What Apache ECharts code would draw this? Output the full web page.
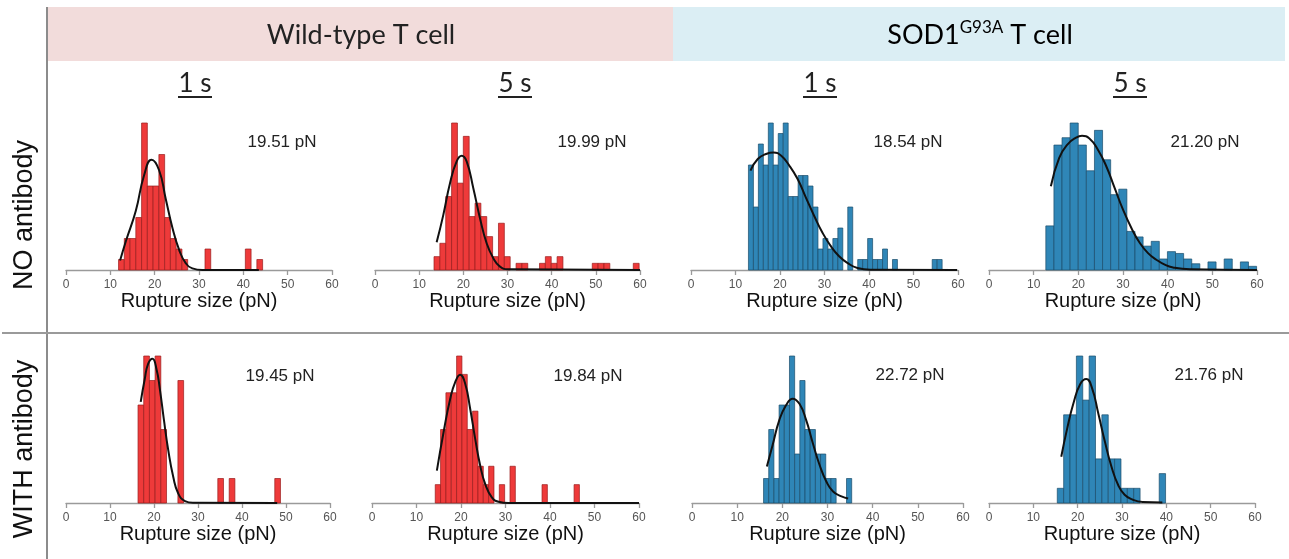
<!DOCTYPE html>
<html>
<head>
<meta charset="utf-8">
<script src="https://cdn.jsdelivr.net/npm/echarts@6/dist/echarts.min.js"></script>
<style>
html,body{margin:0;padding:0;background:#fff;}
#chart{width:1289px;height:559px;}
</style>
</head>
<body>
<div id="chart"></div>
<script>
// ---------------- DATA ----------------
const xTicks = [0, 10, 20, 30, 40, 50, 60];
const groupLabels = ['Wild-type T cell', 'SOD1', 'G93A', ' T cell'];
const timeLabels = ['1 s', '5 s', '1 s', '5 s'];
const rowLabels = ['NO antibody', 'WITH antibody'];
const peakLabels = ['19.51 pN', '19.99 pN', '18.54 pN', '21.20 pN', '19.45 pN', '19.84 pN', '22.72 pN', '21.76 pN'];
const xAxisTitle = 'Rupture size (pN)';

// histogram bins: first bin left edge, bin width, counts
const p1Start = 11.85, p1Width = 1.3;
const p1Counts = [1,3,3,5,14,8,8,11,5,3,2,1,0,0,0,2,0,0,0,0,0,0,2,0,1];
const p2Start = 13.36, p2Width = 1.327;
const p2Counts = [2,4,11,22,13,20,8,10,8,5,2,7,2,0,1,1,0,0,1,2,1,2,0,0,0,0,0,1,1,1,0,0,0,0,1];
const p3Start = 12.91, p3Width = 1.116;
const p3Counts = [10,6,12,10,14,10,13,14,7,7,9,9,8,6,2,3,2,3,4,0,6,0,1,1,3,1,1,2,0,1,0,0,0,0,0,0,0,1,1];
const p4Start = 12.72, p4Width = 1.815;
const p4Counts = [12,34,36,40,34,27,38,30,20.5,22,10.5,9,6.5,7.8,3,5,4.5,3,1.7,0,2.2,0,3,0,2.2,1];
const p5Start = 16.37, p5Width = 1.295;
const p5Counts = [4,6,5,6,3,0,0,5,0,0,0,0,0,0,1,0,1,0,0,0,0,0,0,0,1];
const p6Start = 14.21, p6Width = 1.2;
const p6Counts = [1,4,6,6,8,7,4,5,2,1,2,0,1,0,2,0,0,0,0,0,1,0,0,0,0,0,1];
const p7Start = 15.84, p7Width = 1.148;
const p7Counts = [1,3,1,4,4,6,2,5,3,3,2,2,1,1,0,0,1];
const p8Start = 15.4, p8Width = 1.437;
const p8Counts = [1,6,6,10,7,10,3,6,3,3,1,1,1,0,0,0,2];

// fitted curves: [x, y]
const p1Curve = [[12.2,0.9],[13.5,2.74],[15.75,5.65],[17.6,9.0],[19.3,10.5],[21.0,9.5],[22.5,6.77],[24.0,4.03],[25.5,1.94],[27.0,0.65],[28.5,0.16],[30.75,0],[43.5,0]];
const p2Curve = [[13.96,4.15],[15.47,8.25],[16.98,13],[18.49,16.25],[19.62,17.1],[20.75,16.25],[22.26,12.25],[23.77,7.75],[25.28,4],[26.79,1.75],[28.3,0.5],[30.2,0.1],[60,0]];
const p3Curve = [[13.36,9.46],[15.0,10.57],[16.87,11.05],[18.58,11.18],[20.22,10.9],[22.09,9.94],[23.96,8.66],[25.82,6.9],[27.69,5.14],[29.55,3.55],[31.42,2.27],[33.28,1.31],[35.15,0.67],[37.39,0.19],[40.37,0.02],[59.8,0]];
const p4Curve = [[13.85,22.8],[15.72,30.5],[17.6,34.2],[19.47,36],[20.83,36.5],[22.48,35.8],[24.35,32.8],[26.23,28.3],[28.1,22.4],[29.98,16.5],[31.85,11.5],[33.73,7.4],[35.6,4.6],[37.48,2.8],[39.35,1.45],[41.2,0.7],[45,0.2],[60,0]];
const p5Curve = [[16.98,4.13],[17.9,5.06],[18.66,5.68],[19.65,5.89],[20.56,5.47],[21.33,4.65],[22.24,3.41],[23.23,2.17],[24.37,1.07],[25.51,0.39],[27.04,0.08],[28.9,0.01],[48,0]];
const p6Curve = [[14.58,1.76],[16.08,3.85],[17.58,5.67],[18.7,6.58],[19.82,6.98],[20.94,6.49],[22.06,5.13],[23.19,3.49],[24.31,2.04],[25.43,1.04],[26.93,0.31],[28.42,0.07],[30.67,0],[60,0]];
const p7Curve = [[16.58,1.49],[17.84,2.36],[19.33,3.38],[20.82,3.99],[22.3,4.26],[23.79,4.05],[25.28,3.38],[26.77,2.43],[28.25,1.55],[29.74,0.88],[31.23,0.47],[33.09,0.27],[34.57,0.18]];
const p8Curve = [[16.3,3.15],[17.63,5.06],[19.11,6.85],[20.59,8.09],[21.93,8.43],[23.19,7.87],[24.67,6.07],[26.15,4.16],[27.63,2.47],[29.11,1.24],[30.59,0.56],[32.44,0.22],[34.67,0.07],[39.1,0.04]];

// ---------------- LAYOUT ----------------
const panels = [
  {start:p1Start, width:p1Width, counts:p1Counts, curve:p1Curve, color:'red',  left:66,  right:332,  row:0, label:[282,142]},
  {start:p2Start, width:p2Width, counts:p2Counts, curve:p2Curve, color:'red',  left:375, right:640,  row:0, label:[592,142]},
  {start:p3Start, width:p3Width, counts:p3Counts, curve:p3Curve, color:'blue', left:691, right:958,  row:0, label:[908,142]},
  {start:p4Start, width:p4Width, counts:p4Counts, curve:p4Curve, color:'blue', left:989, right:1257, row:0, label:[1205,142]},
  {start:p5Start, width:p5Width, counts:p5Counts, curve:p5Curve, color:'red',  left:66,  right:330,  row:1, label:[280,376]},
  {start:p6Start, width:p6Width, counts:p6Counts, curve:p6Curve, color:'red',  left:372, right:639,  row:1, label:[588,376]},
  {start:p7Start, width:p7Width, counts:p7Counts, curve:p7Curve, color:'blue', left:692, right:963,  row:1, label:[910,375]},
  {start:p8Start, width:p8Width, counts:p8Counts, curve:p8Curve, color:'blue', left:989, right:1255, row:1, label:[1209,375]}
];
const W = 1289, H = 559;
const rowTop = [123, 356];
const rowAxis = [270, 503];
const fills = {red:'#ee3a3a', blue:'#2f86b7'};
const strokes = {red:'#9a1c1c', blue:'#1b4d6b'};

const grids = [], xAxes = [], yAxes = [], series = [];
panels.forEach((p, i) => {
  grids.push({left:p.left, width:p.right - p.left, top:rowTop[p.row], height:rowAxis[p.row] - rowTop[p.row]});
  xAxes.push({
    gridIndex:i, type:'value', min:xTicks[0], max:xTicks[xTicks.length-1], interval:10,
    axisLine:{show:true, lineStyle:{color:'#9a9a9a', width:1.3}},
    axisTick:{show:true, length:5, lineStyle:{color:'#9a9a9a', width:1.3}},
    axisLabel:{fontSize:12, color:'#555', margin:9, fontFamily:'Liberation Sans, Arial, sans-serif'},
    splitLine:{show:false},
    name:xAxisTitle, nameLocation:'middle', nameGap:19,
    nameTextStyle:{fontSize:20, color:'#111', fontFamily:'Liberation Sans, Arial, sans-serif', verticalAlign:'top'}
  });
  yAxes.push({gridIndex:i, type:'value', min:0, max:Math.max.apply(null, p.counts), show:false, splitLine:{show:false}});
  const bars = [];
  p.counts.forEach((c, k) => { if (c > 0) bars.push([p.start + k*p.width, p.start + (k+1)*p.width, c]); });
  series.push({
    type:'custom', xAxisIndex:i, yAxisIndex:i, data:bars, silent:true,
    encode:{x:[0,1], y:2},
    renderItem:(params, api) => {
      const a = api.coord([api.value(0), 0]);
      const b = api.coord([api.value(1), api.value(2)]);
      return {type:'rect', shape:{x:a[0], y:b[1], width:b[0]-a[0], height:a[1]-b[1]},
              style:{fill:fills[p.color], stroke:strokes[p.color], lineWidth:0.7}};
    }
  });
  series.push({
    type:'line', xAxisIndex:i, yAxisIndex:i, data:p.curve, smooth:0.5,
    symbol:'none', silent:true, z:5, lineStyle:{color:'#111', width:2}
  });
});

// ---------------- GRAPHIC (headers, dividers, labels) ----------------
const hdrFont = 'Lato, "Open Sans", sans-serif';
const graphic = [
  {type:'rect', shape:{x:47, y:7, width:626, height:54}, style:{fill:'#f2dcdb'}, z:-1},
  {type:'rect', shape:{x:673, y:7, width:612, height:54}, style:{fill:'#dbeef4'}, z:-1},
  {type:'text', x:361, y:35, style:{text:groupLabels[0], font:'27px ' + hdrFont, fill:'#222', textAlign:'center', textVerticalAlign:'middle'}},
  {type:'text', x:980, y:35, style:{
    text:'{a|' + groupLabels[1] + '}{s|' + groupLabels[2] + '}{a|' + groupLabels[3] + '}',
    textAlign:'center', textVerticalAlign:'middle',
    rich:{a:{fontSize:27, fontFamily:hdrFont, color:'#222', lineHeight:32},
          s:{fontSize:17, fontFamily:hdrFont, color:'#222', verticalAlign:'top', lineHeight:32, padding:[0,0,12,0]}}
  }},
  {type:'line', shape:{x1:47, y1:7, x2:47, y2:H}, style:{stroke:'#8c8c8c', lineWidth:2}},
  {type:'line', shape:{x1:2, y1:333, x2:W, y2:333}, style:{stroke:'#9a9a9a', lineWidth:2}},
  {type:'text', x:25, y:215, rotation:Math.PI/2, style:{text:rowLabels[0], font:'27px "Liberation Sans", Arial, sans-serif', fill:'#111', textAlign:'center', textVerticalAlign:'middle'}},
  {type:'text', x:25, y:449, rotation:Math.PI/2, style:{text:rowLabels[1], font:'27px "Liberation Sans", Arial, sans-serif', fill:'#111', textAlign:'center', textVerticalAlign:'middle'}}
];
const timeX = [195, 515, 820, 1130];
timeLabels.forEach((t, i) => {
  graphic.push({type:'text', x:timeX[i], y:84, style:{text:t, font:'26px ' + hdrFont, fill:'#222', textAlign:'center', textVerticalAlign:'middle'}});
  graphic.push({type:'line', shape:{x1:timeX[i]-17, y1:97, x2:timeX[i]+17, y2:97}, style:{stroke:'#222', lineWidth:2}});
});
panels.forEach((p, i) => {
  graphic.push({type:'text', x:p.label[0], y:p.label[1], style:{text:peakLabels[i], font:'17px "Liberation Sans", Arial, sans-serif', fill:'#222', textAlign:'center', textVerticalAlign:'middle'}});
});

const chart = echarts.init(document.getElementById('chart'), null, {renderer:'canvas'});
chart.setOption({
  animation:false,
  backgroundColor:'#fff',
  grid:grids, xAxis:xAxes, yAxis:yAxes, series:series, graphic:graphic
});
</script>
</body>
</html>
